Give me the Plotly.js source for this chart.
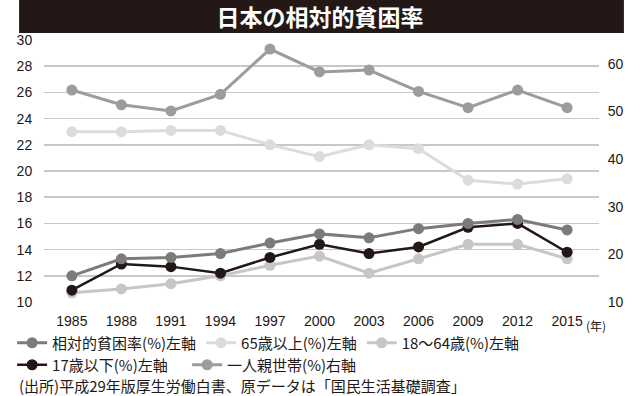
<!DOCTYPE html>
<html><head><meta charset="utf-8">
<script src="https://cdn.plot.ly/plotly-3.0.1.min.js"></script>
<style>html,body{margin:0;padding:0;background:#fff}#chart{width:640px;height:396px}</style>
</head><body><div id="chart"></div>
<script>
const years = ['1985','1988','1991','1994','1997','2000','2003','2006','2009','2012','2015'];
const relativePoverty = [12.0, 13.3, 13.4, 13.7, 14.5, 15.2, 14.9, 15.6, 16.0, 16.3, 15.5];
const elderly65 = [23.0, 23.0, 23.1, 23.1, 22.0, 21.1, 22.0, 21.7, 19.3, 19.0, 19.4];
const working18to64 = [10.7, 11.0, 11.4, 12.0, 12.8, 13.5, 12.2, 13.3, 14.4, 14.4, 13.3];
const children17 = [10.9, 12.9, 12.7, 12.2, 13.4, 14.4, 13.7, 14.2, 15.7, 16.0, 13.8];
const singleParent = [54.5, 51.4, 50.1, 53.6, 63.1, 58.3, 58.7, 54.2, 50.8, 54.5, 50.8];

const names = ['相対的貧困率(%)左軸', '65歳以上(%)左軸', '18～64歳(%)左軸', '17歳以下(%)左軸', '一人親世帯(%)右軸'];
const titleText = '日本の相対的貧困率';
const sourceText = '(出所)平成29年版厚生労働白書、原データは「国民生活基礎調査」';
const yearUnit = '(年)';

const CJK = '"Noto Sans CJK JP", "Noto Sans", sans-serif';
const NUM = '"Liberation Sans Narrow", "Liberation Sans", Arial, sans-serif';
const ink = '#231815';

function tr(y, name, color, width, legend, rank, yaxis, lw) {
  const t = {
    x: years, y: y, name: name, type: 'scatter', mode: 'lines+markers',
    line: {color: color, width: width},
    marker: {color: color, size: 11},
    legend: legend, legendrank: rank, yaxis: yaxis || 'y',
    hoverinfo: 'x+y+name'
  };
  if (lw) t.legendwidth = lw;
  return t;
}

const data = [
  tr(elderly65, names[1], '#dcdcdc', 3, 'legend', 2),
  tr(working18to64, names[2], '#c6c6c6', 3, 'legend', 3),
  tr(children17, names[3], ink, 2.5, 'legend2', 1, 'y', 130),
  tr(relativePoverty, names[0], '#7b7b7b', 3, 'legend', 1),
  tr(singleParent, names[4], '#9c9c9c', 3, 'legend2', 2, 'y2')
];

const L = 42, R = 41, T = 40, B = 94, W = 640, H = 396;
const pw = W - L - R, ph = H - T - B;
const px = v => (v - L) / pw;
const py = v => (H - B - v) / ph;

const legendBase = {
  orientation: 'h', xanchor: 'left', yanchor: 'middle',
  bgcolor: 'rgba(0,0,0,0)', borderwidth: 0,
  font: {family: CJK, size: 15, color: ink},
  itemwidth: 30, tracegroupgap: 0, itemclick: false
};

const layout = {
  width: W, height: H,
  margin: {l: L, r: R, t: T, b: B, pad: 0},
  paper_bgcolor: '#fff', plot_bgcolor: '#fff',
  showlegend: true,
  title: {text: titleText, x: 0.5, xref: 'container', xanchor: 'center',
          y: 1 - 18 / H, yref: 'container', yanchor: 'middle',
          font: {family: CJK, size: 23, color: '#fff', weight: 700}},
  xaxis: {type: 'category', range: [-0.563, 10.644], showgrid: false, zeroline: false,
          showline: false, ticks: 'outside', ticklen: 6, tickcolor: 'rgba(0,0,0,0)',
          tickfont: {family: NUM, size: 14, color: ink}, fixedrange: true},
  yaxis: {range: [10, 30], dtick: 2, tick0: 10, showgrid: true, gridcolor: '#c8c8c8', gridwidth: 1.5,
          zeroline: false, showline: false, ticks: 'outside', ticklen: 8, tickcolor: 'rgba(0,0,0,0)',
          tickfont: {family: NUM, size: 14, color: ink}, fixedrange: true},
  yaxis2: {range: [10, 65], dtick: 10, tick0: 10, overlaying: 'y', side: 'right', showgrid: false,
           zeroline: false, showline: false, ticks: 'outside', ticklen: 5, tickcolor: 'rgba(0,0,0,0)',
           tickfont: {family: NUM, size: 14, color: ink}, fixedrange: true},
  legend: Object.assign({}, legendBase, {x: px(10), y: py(343)}),
  legend2: Object.assign({}, legendBase, {x: px(10), y: py(365)}),
  shapes: [{type: 'rect', xref: 'paper', yref: 'paper', x0: px(17), x1: px(624), y0: py(33), y1: py(0),
            fillcolor: ink, line: {width: 0}, layer: 'below'}],
  annotations: [
    {text: yearUnit, xref: 'paper', yref: 'paper', x: px(596), y: py(325), xanchor: 'center', yanchor: 'middle',
     showarrow: false, font: {family: CJK, size: 12, color: ink}},
    {text: sourceText, xref: 'paper', yref: 'paper', x: px(15), y: py(385), xanchor: 'left', yanchor: 'middle',
     showarrow: false, font: {family: CJK, size: 15, color: ink}}
  ]
};

Plotly.newPlot('chart', data, layout, {displayModeBar: false, staticPlot: true});
</script>
</body></html>
